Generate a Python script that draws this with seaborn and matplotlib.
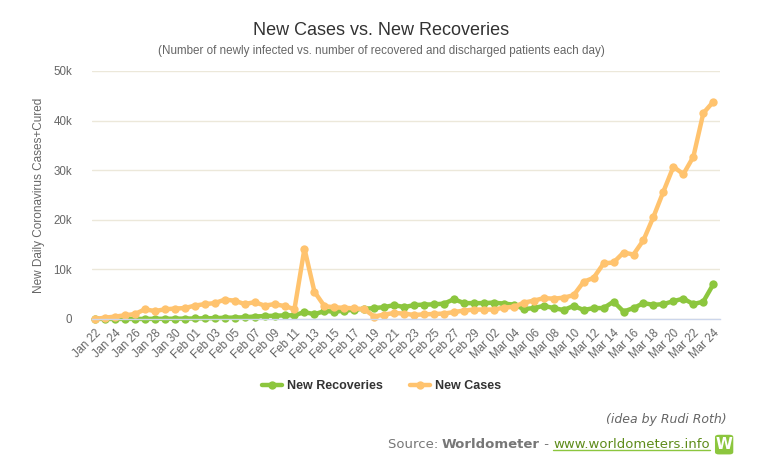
import numpy as np
import pandas as pd
import matplotlib
matplotlib.use("Agg")
import matplotlib.pyplot as plt
from matplotlib.patches import FancyBboxPatch
from matplotlib.ticker import FuncFormatter
import seaborn as sns

# dati (22 gen - 24 mar)
dates = pd.date_range("2020-01-22", "2020-03-24", freq="D")

new_cases = [0, 270, 480, 750, 1000, 1950, 1600, 1950, 2100, 2200,
             2700, 3000, 3200, 3900, 3700, 3000, 3400, 2700, 3000, 2600,
             2000, 14200, 5500, 2600, 2350, 2250, 2150, 1950, 500, 900,
             1200, 1100, 800, 950, 1000, 1100, 1400, 1700, 1900, 1900,
             1900, 2300, 2450, 3300, 3700, 4200, 4100, 4300, 4800, 7500,
             8300, 11200, 11400, 13400, 13000, 15900, 20600, 25700, 30700, 29200,
             32700, 41500, 43800]

new_recoveries = [30, 10, 10, 20, 20, 10, 40, 40, 60, 80,
                  100, 150, 170, 250, 280, 350, 500, 600, 650, 730,
                  750, 1400, 950, 1600, 1500, 1650, 1900, 2050, 2200, 2400,
                  2800, 2400, 2800, 2900, 2950, 3100, 4000, 3200, 3200, 3200,
                  3300, 3100, 2900, 2000, 2200, 2650, 2200, 1800, 2650, 1800,
                  2200, 2200, 3500, 1500, 2200, 3200, 2850, 3000, 3600, 4100,
                  3000, 3500, 7000]

series_names = ["New Recoveries", "New Cases"]
colors = ["#8cc63e", "#ffc36e"]

day = np.arange(len(dates))
df = pd.DataFrame({
    "day": np.concatenate([day, day]),
    "value": new_recoveries + new_cases,
    "serie": [series_names[0]] * len(day) + [series_names[1]] * len(day),
})

sns.set_theme(style="white")
plt.rcParams["font.family"] = ["Liberation Sans", "DejaVu Sans"]

fig = plt.figure(figsize=(7.63, 4.68), dpi=100)
ax = fig.add_axes([0.120, 0.3184, 0.824, 0.5299])

sns.lineplot(data=df, x="day", y="value", hue="serie", hue_order=series_names,
             palette=colors, marker="o", markersize=6, markeredgewidth=0,
             linewidth=3.2, ax=ax, legend=False, clip_on=False)

ax.set_xlim(-0.35, 62.7)
ax.set_ylim(0, 50000)
ax.set_yticks([0, 10000, 20000, 30000, 40000, 50000])
ax.yaxis.set_major_formatter(FuncFormatter(lambda v, p: "0" if v == 0 else f"{int(v/1000)}k"))
ax.grid(axis="y", color="#ece8da", linewidth=1)
ax.grid(axis="x", visible=False)
for s in ["top", "right", "left"]:
    ax.spines[s].set_visible(False)
ax.spines["bottom"].set_color("#ccd6eb")
ax.spines["bottom"].set_linewidth(1)
ax.set_axisbelow(True)

tick_pos = day[::2]
tick_lab = [d.strftime("%b %d") for d in dates[::2]]
ax.set_xticks(tick_pos)
ax.set_xticklabels(tick_lab, rotation=45, ha="right", rotation_mode="anchor",
                   fontsize=8.3, color="#666666")
ax.tick_params(axis="x", length=0, pad=6)
ax.tick_params(axis="y", length=0, pad=14, labelsize=8.3, labelcolor="#666666")
for lab in ax.get_yticklabels():
    lab.set_horizontalalignment("right")

ax.set_xlabel("")
ax.set_ylabel("New Daily Coronavirus Cases+Cured", fontsize=8.5, color="#666666", labelpad=6)

fig.text(0.5, 0.935, "New Cases vs. New Recoveries", ha="center", va="center",
         fontsize=13, color="#333333")
fig.text(0.5, 0.890, "(Number of newly infected vs. number of recovered and discharged patients each day)",
         ha="center", va="center", fontsize=8.4, color="#666666")

# legenda
from matplotlib.lines import Line2D
handles = [Line2D([0], [0], color=c, lw=3.2, marker="o", markersize=6, markeredgewidth=0)
           for c in colors]
leg = fig.legend(handles, series_names, loc="center", bbox_to_anchor=(0.5, 0.175),
                 ncol=2, frameon=False, handlelength=1.6, columnspacing=2.2,
                 handletextpad=0.4, prop={"weight": "bold", "size": 9})
for t in leg.get_texts():
    t.set_color("#333333")

# piè di pagina
fig.text(0.952, 0.103, "(idea by Rudi Roth)", ha="right", va="center", fontsize=9,
         style="italic", color="#666666", family="DejaVu Sans")
y_src = 0.050
t1 = fig.text(0.508, y_src, "Source: ", ha="left", va="center", fontsize=9.5,
              color="#777777", family="DejaVu Sans")
fig.canvas.draw()
r = fig.canvas.get_renderer()
bb = t1.get_window_extent(r)
x = bb.x1 / fig.bbox.width
t2 = fig.text(x, y_src, "Worldometer", ha="left", va="center", fontsize=9.5,
              color="#777777", weight="bold", family="DejaVu Sans")
bb = t2.get_window_extent(r)
x = bb.x1 / fig.bbox.width
t3 = fig.text(x, y_src, " - ", ha="left", va="center", fontsize=9.5,
              color="#777777", family="DejaVu Sans")
bb = t3.get_window_extent(r)
x = bb.x1 / fig.bbox.width
t4 = fig.text(x, y_src, "www.worldometers.info", ha="left", va="center", fontsize=9.5,
              color="#5e8c1a", family="DejaVu Sans")
bb = t4.get_window_extent(r)
fig.add_artist(Line2D([bb.x0 / fig.bbox.width, bb.x1 / fig.bbox.width],
                      [(bb.y0 + 1) / fig.bbox.height] * 2, color="#8cc63e", lw=1))
x_icon = (bb.x1 + 5) / fig.bbox.width
icon = FancyBboxPatch((x_icon, y_src - 0.021), 0.024, 0.042,
                      boxstyle="round,pad=0,rounding_size=0.005",
                      transform=fig.transFigure, facecolor="#8cc63e", edgecolor="none")
fig.add_artist(icon)
fig.text(x_icon + 0.012, y_src, "W", ha="center", va="center", fontsize=11,
         color="white", weight="bold", family="DejaVu Sans")

fig.savefig("out.png", dpi=100)
